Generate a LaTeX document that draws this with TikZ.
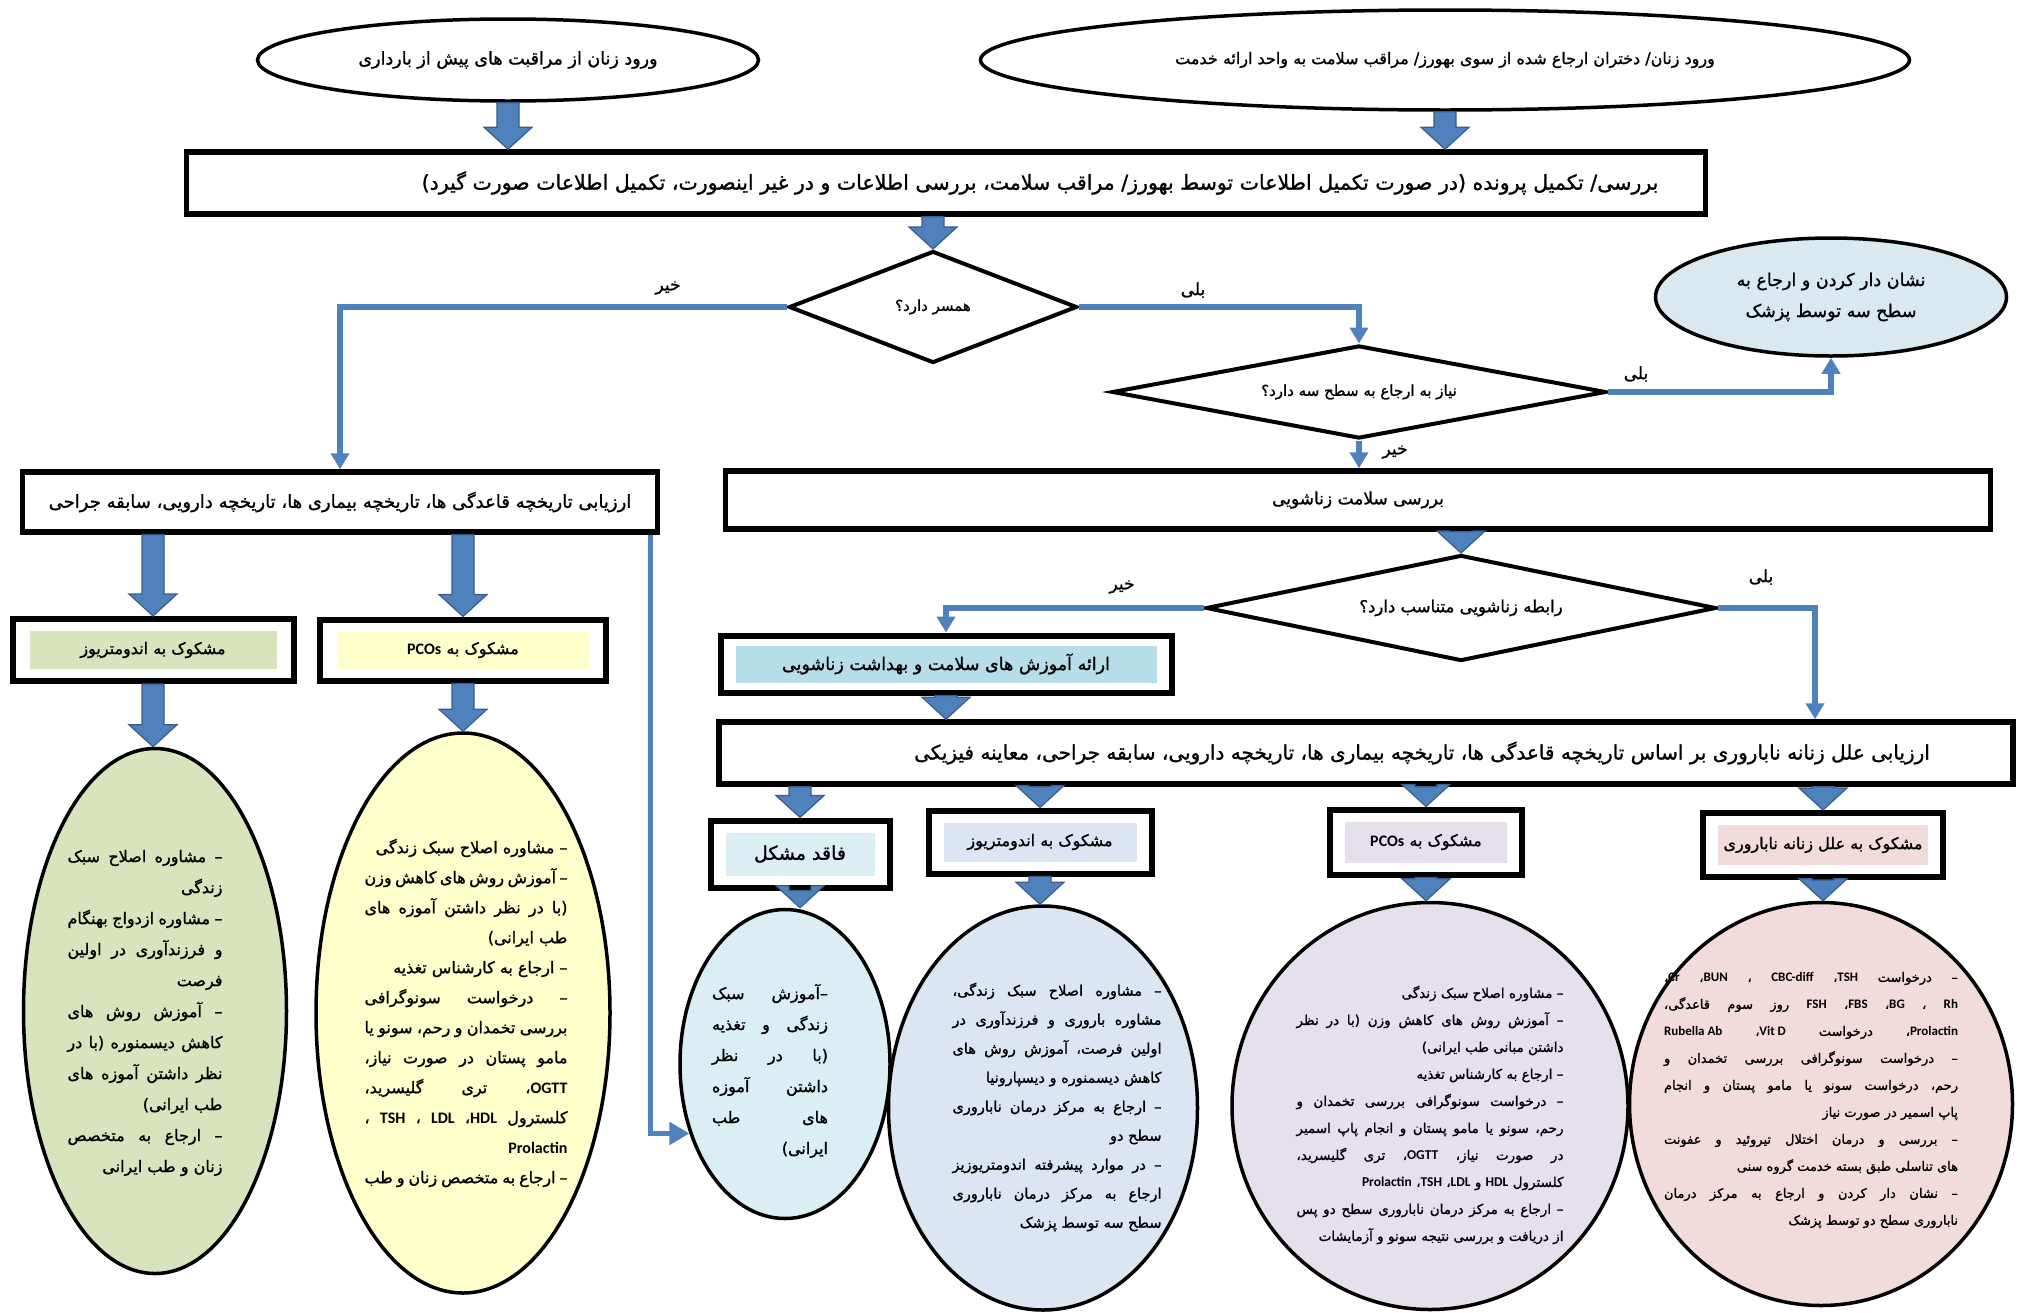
\documentclass[tikz,border=0pt]{standalone}
\usepackage{fontspec}
\usetikzlibrary{shapes.geometric,arrows.meta,calc}
\TeXXeTstate=1
\newfontfamily\fa[Script=Arabic,FakeBold=1.2]{DejaVu Sans}
\newfontfamily\lat{Carlito}
\newcommand\la[1]{{\lat\bfseries #1}}
\newcommand\rr[1]{\beginR #1\endR}
\newcommand\jline[1]{\hbox to\hsize{\beginR #1\endR}}
\newcommand\eline[1]{\hbox to\hsize{\hfill\beginR #1\endR}}
\newcommand\tbox[2]{\vbox{\hsize=#1\relax #2}}
\newcommand\setfs[2]{\fontsize{#1}{#2}\selectfont}
\newcommand\fatarr[2]{\path[fat] let \p1=(#1), \p2=(#2) in
  (\x1-11pt,\y1) -- (\x1-11pt,\y2+22pt) -- (\x1-24pt,\y2+22pt) -- (\x1,\y2) --
  (\x1+24pt,\y2+22pt) -- (\x1+11pt,\y2+22pt) -- (\x1+11pt,\y1) -- cycle;}
\definecolor{cblue}{RGB}{79,129,189}
\definecolor{cbluedk}{RGB}{56,93,138}
\definecolor{cethree}{RGB}{218,232,240}
\definecolor{cgreen}{RGB}{215,228,189}
\definecolor{cyellow}{RGB}{255,255,204}
\definecolor{cedu}{RGB}{183,222,232}
\definecolor{csone}{RGB}{218,238,243}
\definecolor{cstwo}{RGB}{220,230,242}
\definecolor{csthree}{RGB}{229,224,236}
\definecolor{csfour}{RGB}{242,220,219}
\begin{document}
\begin{tikzpicture}[x=1pt,y=-1pt,
  ell/.style={ellipse, draw=black, line width=3.5pt, inner sep=0pt, fill=white},
  bx/.style={rectangle, draw=black, line width=5.5pt, inner sep=0pt, fill=white},
  sbox/.style={rectangle, draw=black, line width=6pt, inner sep=0pt, fill=white},
  dia/.style={diamond, draw=black, line width=4pt, inner sep=0pt, aspect=6, fill=white, font=\fa\setfs{15}{30}},
  conn/.style={draw=cblue, line width=5.5pt, -{Triangle[length=16pt,width=18pt]}},
  fat/.style={fill=cblue, draw=cbluedk, line width=1.2pt},
  tx/.style={inner sep=0pt, font=\fa\setfs{16}{32}},
  lbl/.style={inner sep=0pt, font=\fa\setfs{17}{32}},
  inbox/.style={rectangle, inner sep=0pt, font=\fa\setfs{16}{32}}]
\fill[white] (0,0) rectangle (2023,1312);
\useasboundingbox (0,0) rectangle (2023,1312);

% top ellipses
\node[ell, minimum width=501pt, minimum height=82pt] (e1) at (508,60) {};
\node[tx, font=\fa\setfs{17.5}{32}] (e1t) at (e1) {\rr{ورود زنان از مراقبت های پیش از بارداری}};
\node[ell, minimum width=929pt, minimum height=100pt] (e2) at (1445,60) {};
\node[tx] (e2t) at (e2) {\rr{ورود زنان/ دختران ارجاع شده از سوی بهورز/ مراقب سلامت به واحد ارائه خدمت}};

% top box
\node[bx, minimum width=1519pt, minimum height=62pt] (b0) at (946,183) {};
\node[tx, font=\fa\setfs{20.5}{32}] (b0t) at (1040,183) {\rr{بررسی/ تکمیل پرونده (در صورت تکمیل اطلاعات توسط بهورز/ مراقب سلامت، بررسی اطلاعات و در غیر اینصورت، تکمیل اطلاعات صورت گیرد)}};

% decisions
\node[dia, minimum width=288pt, minimum height=112pt] (d1) at (933,307) {\rr{همسر دارد؟}};
\node[dia, minimum width=494pt, minimum height=93pt] (d2) at (1359,392) {\rr{نیاز به ارجاع به سطح سه دارد؟}};
\node[ell, fill=cethree, minimum width=351pt, minimum height=118pt] (e3) at (1831,297) {};
\node[tx, align=center, font=\fa\setfs{17.5}{31}] (e3t) at (e3) {\rr{نشان دار کردن و ارجاع به}\\\rr{سطح سه توسط پزشک}};

% left branch
\node[bx, minimum width=635pt, minimum height=60pt] (lbox) at (340,502) {};
\node[tx, font=\fa\setfs{18}{32}] (lboxt) at (lbox) {\rr{ارزیابی تاریخچه قاعدگی ها، تاریخچه بیماری ها، تاریخچه دارویی، سابقه جراحی}};
\node[sbox, minimum width=281pt, minimum height=62pt] (l1) at (153,650) {};
\node[inbox, fill=cgreen, minimum width=247pt, minimum height=38pt] (l1t) at (l1) {\rr{مشکوک به اندومتریوز}};
\node[sbox, minimum width=286pt, minimum height=61pt] (l2) at (463,650) {};
\node[inbox, fill=cyellow, minimum width=252pt, minimum height=37pt] (l2t) at (l2) {\rr{مشکوک به \la{PCOs}}};

\node[ell, fill=cgreen, minimum width=263pt, minimum height=525pt] (g) at (155,1011) {};
\node[tx, font=\fa\setfs{16}{31}] (gt) at (145,1013) {\tbox{155pt}{%
\jline{– مشاوره اصلاح سبک}
\eline{زندگی}
\jline{– مشاوره ازدواج بهنگام}
\jline{و فرزندآوری در اولین}
\eline{فرصت}
\jline{– آموزش روش های}
\jline{کاهش دیسمنوره (با در}
\jline{نظر داشتن آموزه های}
\eline{طب ایرانی)}
\jline{– ارجاع به متخصص}
\eline{زنان و طب ایرانی}}};

\node[ell, fill=cyellow, minimum width=294pt, minimum height=560pt] (yl) at (463,1013) {};
\node[tx, font=\fa\setfs{16}{30}] (ylt) at (466,1013) {\tbox{203pt}{%
\eline{– مشاوره اصلاح سبک زندگی}
\jline{– آموزش روش های کاهش وزن}
\jline{(با در نظر داشتن آموزه های}
\eline{طب ایرانی)}
\eline{– ارجاع به کارشناس تغذیه}
\jline{– درخواست سونوگرافی}
\jline{بررسی تخمدان و رحم، سونو یا}
\jline{مامو پستان در صورت نیاز،}
\jline{\la{OGTT}، تری گلیسرید،}
\jline{کلسترول \la{HDL}، \la{LDL} ، \la{TSH} ،}
\eline{\la{Prolactin}}
\eline{– ارجاع به متخصص زنان و طب}}};

% right branch
\node[bx, minimum width=1265pt, minimum height=58pt] (rbox) at (1358,500) {};
\node[tx, font=\fa\setfs{17}{32}] (rboxt) at (rbox) {\rr{بررسی سلامت زناشویی}};
\node[dia, minimum width=510pt, minimum height=106pt, font=\fa\setfs{16.5}{30}] (d3) at (1461,608) {\rr{رابطه زناشویی متناسب دارد؟}};
\node[sbox, minimum width=451pt, minimum height=57pt] (edu) at (946,664) {};
\node[inbox, fill=cedu, minimum width=421pt, minimum height=37pt, font=\fa\setfs{17.5}{32}] (edut) at (edu) {\rr{ارائه آموزش های سلامت و بهداشت زناشویی}};
\node[bx, minimum width=1294pt, minimum height=62pt] (big) at (1366,753) {};
\node[tx, font=\fa\setfs{20}{32}] (bigt) at (1422,753) {\rr{ارزیابی علل زنانه ناباروری بر اساس تاریخچه قاعدگی ها، تاریخچه بیماری ها، تاریخچه دارویی، سابقه جراحی، معاینه فیزیکی}};

\node[sbox, minimum width=179pt, minimum height=67pt] (s1) at (800,854) {};
\node[inbox, fill=csone, minimum width=149pt, minimum height=43pt, font=\fa\setfs{19}{32}] (s1t) at (s1) {\rr{فاقد مشکل}};
\node[sbox, minimum width=223pt, minimum height=63pt] (s2) at (1040,842) {};
\node[inbox, fill=cstwo, minimum width=193pt, minimum height=39pt] (s2t) at (s2) {\rr{مشکوک به اندومتریوز}};
\node[sbox, minimum width=192pt, minimum height=65pt] (s3) at (1426,842) {};
\node[inbox, fill=csthree, minimum width=162pt, minimum height=41pt] (s3t) at (s3) {\rr{مشکوک به \la{PCOs}}};
\node[sbox, minimum width=240pt, minimum height=64pt] (s4) at (1823,845) {};
\node[inbox, fill=csfour, minimum width=210pt, minimum height=40pt] (s4t) at (s4) {\rr{مشکوک به علل زنانه ناباروری}};

\node[ell, fill=csone, minimum width=210pt, minimum height=309pt] (b1) at (785,1064) {};
\node[tx, font=\fa\setfs{16}{31}] (b1t) at (770,1071) {\tbox{116pt}{%
\jline{–آموزش سبک}
\jline{زندگی و تغذیه}
\jline{(با در نظر}
\jline{داشتن آموزه}
\jline{های طب}
\eline{ایرانی)}}};

\node[ell, fill=cstwo, minimum width=309pt, minimum height=404pt] (b2) at (1043,1108) {};
\node[tx, font=\fa\setfs{14.5}{29}] (b2t) at (1057,1107) {\tbox{209pt}{%
\jline{– مشاوره اصلاح سبک زندگی،}
\jline{مشاوره باروری و فرزندآوری در}
\jline{اولین فرصت، آموزش روش های}
\eline{کاهش دیسمنوره و دیسپارونیا}
\jline{– ارجاع به مرکز درمان ناباروری}
\eline{سطح دو}
\jline{– در موارد پیشرفته اندومتریوزیز}
\jline{ارجاع به مرکز درمان ناباروری}
\eline{سطح سه توسط پزشک}}};

\node[ell, fill=csthree, minimum width=396pt, minimum height=407pt] (b3) at (1430,1106) {};
\node[tx, font=\fa\setfs{13.5}{27}] (b3t) at (1430,1115) {\tbox{267pt}{%
\eline{– مشاوره اصلاح سبک زندگی}
\jline{– آموزش روش های کاهش وزن (با در نظر}
\eline{داشتن مبانی طب ایرانی)}
\eline{– ارجاع به کارشناس تغذیه}
\jline{– درخواست سونوگرافی بررسی تخمدان و}
\jline{رحم، سونو یا مامو پستان و انجام پاپ اسمیر}
\jline{در صورت نیاز، \la{OGTT}، تری گلیسرید،}
\eline{کلسترول \la{HDL} و \la{LDL}، \la{TSH}، \la{Prolactin}}
\jline{– ارجاع به مرکز درمان ناباروری سطح دو پس}
\eline{از دریافت و بررسی نتیجه سونو و آزمایشات}}};

\node[ell, fill=csfour, minimum width=383pt, minimum height=403pt] (b4) at (1821,1104) {};
\node[tx, font=\fa\setfs{13}{27}] (b4t) at (1811,1100) {\tbox{294pt}{%
\jline{– درخواست \la{TSH}، \la{CBC-diff} ، \la{BUN}، \la{Cr}،}
\jline{\la{Rh} ، \la{BG}، \la{FBS}، \la{FSH} روز سوم قاعدگی،}
\jline{\la{Prolactin}، درخواست \beginL\la{Vit\kern0.22em D}\endL، \beginL\la{Rubella\kern0.22em Ab}\endL}
\jline{– درخواست سونوگرافی بررسی تخمدان و}
\jline{رحم، درخواست سونو یا مامو پستان و انجام}
\eline{پاپ اسمیر در صورت نیاز}
\jline{– بررسی و درمان اختلال تیروئید و عفونت}
\eline{های تناسلی طبق بسته خدمت گروه سنی}
\jline{– نشان دار کردن و ارجاع به مرکز درمان}
\eline{ناباروری سطح دو توسط پزشک}}};

% labels
\node[lbl] (n1) at (668,288) {\rr{خیر}};
\node[lbl] (y1) at (1193,290) {\rr{بلی}};
\node[lbl] (y2) at (1636,374) {\rr{بلی}};
\node[lbl] (n2) at (1395,452) {\rr{خیر}};
\node[lbl] (n3) at (1122,587) {\rr{خیر}};
\node[lbl] (y3) at (1761,577) {\rr{بلی}};

% thin connectors
\draw[conn] (d1.west) -| (lbox.north);
\draw[conn] (d1.east) -| (d2.north);
\draw[conn] (d2.east) -| (e3.south);
\draw[conn] (d2.south) -- (d2.south |- rbox.north);
\draw[conn] (d3.west) -| (edu.north);
\draw[conn] (d3.east) -| ([xshift=449pt]big.north);
\draw[conn, -{Triangle[length=20pt,width=22pt]}] ([xshift=-10pt]lbox.south east) |- (b1.216);

% fat arrows
\fatarr{e1.south}{e1.south |- b0.north}
\fatarr{e2.south}{e2.south |- b0.north}
\fatarr{d1.north |- b0.south}{d1.north}
\fatarr{d3.north |- rbox.south}{d3.north}
\fatarr{edu.south}{edu.south |- big.north}
\fatarr{l1.north |- lbox.south}{l1.north}
\fatarr{l2.north |- lbox.south}{l2.north}
\fatarr{l1.south}{l1.south |- g.north}
\fatarr{l2.south}{l2.south |- yl.north}
\fatarr{s1.north |- big.south}{s1.north}
\fatarr{s2.north |- big.south}{s2.north}
\fatarr{s3.north |- big.south}{s3.north}
\fatarr{s4.north |- big.south}{s4.north}
\fatarr{s1.south}{s1.south |- b1.north}
\fatarr{s2.south}{s2.south |- b2.north}
\fatarr{s3.south}{s3.south |- b3.north}
\fatarr{s4.south}{s4.south |- b4.north}
\end{tikzpicture}
\end{document}
